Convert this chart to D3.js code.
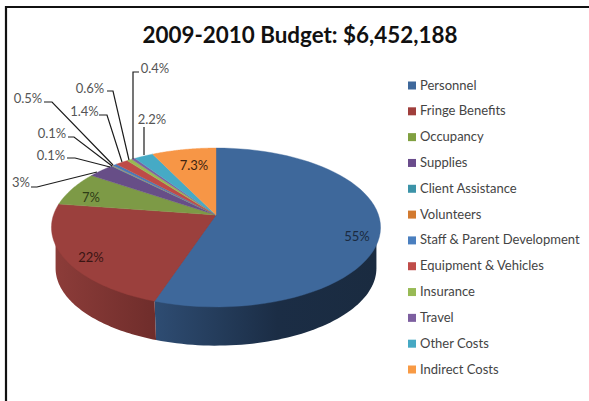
<!DOCTYPE html>
<html><head><meta charset="utf-8">
<script src="https://cdn.jsdelivr.net/npm/d3@7"></script>
<style>html,body{margin:0;padding:0;background:#fff}svg{display:block}</style>
</head><body><svg id="c" width="589" height="401"></svg>
<script>
const categories=["Personnel","Fringe Benefits","Occupancy","Supplies","Client Assistance","Volunteers","Staff & Parent Development","Equipment & Vehicles","Insurance","Travel","Other Costs","Indirect Costs"];
const values=[55,22,7,3,0.1,0.1,0.5,1.4,0.6,0.4,2.2,7.3];
const valueLabels=["55%","22%","7%","3%","0.1%","0.1%","0.5%","1.4%","0.6%","0.4%","2.2%","7.3%"];
const topColors=["#3e689b","#9b403d","#7d9a46","#674e87","#41a0b9","#e08b3c","#4a7ab8","#be4b48","#98b954","#7d60a0","#46aac5","#f79646"];
const legendColors=["#3e689b","#a03f3c","#80a040","#6a4c8c","#3c93a8","#d27a30","#4a7fbf","#c04d4a","#98ba55","#7d5fa0","#46a9c4","#f89a44"];
const title="2009-2010 Budget: $6,452,188";
const labelPos=[[357,241,"#1a2a40"],[91,262,"#3a1513"],[91,202,"#2f3d17"],[21,187,"#555"],[51,160,"#555"],[52,138,"#555"],[28,103,"#555"],[84.5,116,"#555"],[90,93,"#555"],[155,73,"#555"],[152,124,"#555"],[194,170,"#3f2410"]];
const leaders=[null,null,null,[[31,187],[37,187],[97,172]],[[67,158],[75,158],[110,167]],[[68,137],[74,137],[112,166]],[[44,102],[52,102],[113,165]],[[99,115],[107,115],[122,162]],[[107,91],[113,91],[129,160]],[[139,72],[133,72],[133,159]],[[144,127],[144,155]],null];

const svg=d3.select("#c");
const W=589,H=401,cx=216,cy=215,R=162.5,S=77.5,p=0.157,botScale=0.975,botY=256;
function proj(a,scale,yc){const u=Math.sin(a),v=Math.cos(a),w=1+p*v;return [cx+scale*R*u/w,yc-scale*S*v/w];}
const topP=a=>proj(a,1,cy), botP=a=>proj(a,botScale,botY);
const arcs=d3.pie().sort(null).value(d=>d)(values);
const line=d3.line();
const samples=(a0,a1)=>d3.range(0,61).map(i=>a0+(a1-a0)*i/60);

svg.append("rect").attr("width",W).attr("height",H).attr("fill","#fff");
const defs=svg.append("defs");
const silhouette=Math.acos(-p);
const walls=[
 {a0:silhouette,a1:arcs[0].endAngle,c:[[0,"#2e4c72"],[0.55,"#1b2d45"],[1,"#1a2b40"]]},
 {a0:arcs[1].startAngle,a1:2*Math.PI-silhouette,c:[[0,"#8c3c39"],[1,"#6f2d2b"]]}
];
walls.forEach((r,i)=>{
  const ends=[botP(r.a0)[0],botP(r.a1)[0]];
  const g=defs.append("linearGradient").attr("id","w"+i).attr("gradientUnits","userSpaceOnUse")
    .attr("x1",d3.min(ends)).attr("x2",d3.max(ends)).attr("y1",0).attr("y2",0);
  r.c.forEach(d=>g.append("stop").attr("offset",d[0]).attr("stop-color",d[1]));
  const bottom=samples(r.a0,r.a1).map(botP);
  const pts=i==0
    ?bottom.concat([topP(r.a1),[cx,cy],[bottom[0][0],cy]])
    :[[bottom[60][0],cy],[cx,cy],topP(r.a0)].concat(bottom);
  svg.append("path").attr("d",line(pts)+"Z").attr("fill",`url(#w${i})`);
});
arcs.forEach((a,i)=>{
  const ss=samples(a.startAngle,a.endAngle);
  svg.append("path").attr("d",line([[cx,cy]].concat(ss.map(topP)))+"Z").attr("fill",topColors[i]).attr("stroke",topColors[i]).attr("stroke-width",0.4);
});
leaders.forEach(l=>{if(l)svg.append("path").attr("d",line(l)).attr("fill","none").attr("stroke","#1c1c1c").attr("stroke-width",1.2);});
const font="Lato, 'Open Sans', sans-serif";
svg.append("text").attr("x",300).attr("y",43).attr("text-anchor","middle").attr("font-family",font).attr("font-weight",700).attr("font-size",22.4).attr("fill","#111").text(title);
valueLabels.forEach((t,i)=>{const q=labelPos[i];
  svg.append("text").attr("x",q[0]).attr("y",q[1]).attr("text-anchor","middle").attr("font-family",font).attr("font-size",13).attr("fill",q[2]).text(t);});
const ly=d3.scalePoint().domain(categories).range([85.5,369.5]);
categories.forEach((c,i)=>{
  svg.append("rect").attr("x",408).attr("y",ly(c)-4).attr("width",8).attr("height",8).attr("fill",legendColors[i]);
  svg.append("text").attr("x",420).attr("y",ly(c)+4).attr("font-family",font).attr("font-size",13).attr("fill","#444").text(c);
});
svg.append("path").attr("d",line([[6,H],[6,7],[W,7]])).attr("fill","none").attr("stroke","#111").attr("stroke-width",2.2);
</script></body></html>
